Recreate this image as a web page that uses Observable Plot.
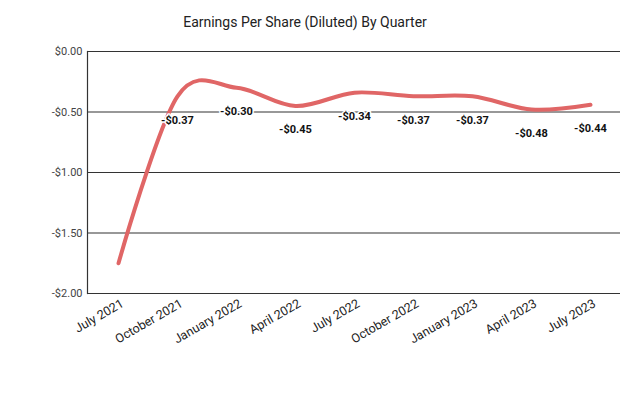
<!DOCTYPE html>
<html><head><meta charset="utf-8">
<script src="https://cdn.jsdelivr.net/npm/d3@7"></script>
<script src="https://cdn.jsdelivr.net/npm/@observablehq/plot@0.6"></script>
<style>
body{margin:0;background:#fff;font-family:Roboto,sans-serif;}
#title{height:40px;width:610px;text-align:center;font-size:14px;line-height:44px;color:#222;}
</style></head>
<body>
<div id="title">Earnings Per Share (Diluted) By Quarter</div>
<div id="chart"></div>
<script>
const quarters = ["July 2021","October 2021","January 2022","April 2022","July 2022","October 2022","January 2023","April 2023","July 2023"];
const eps = [-1.75,-0.37,-0.30,-0.45,-0.34,-0.37,-0.37,-0.48,-0.44];
const showLabel = [false,true,true,true,true,true,true,true,true];
const yTicks = [0,-0.5,-1,-1.5,-2];

const data = quarters.map((q,i)=>({q, v: eps[i], show: showLabel[i]}));
const fmt = d => (d < 0 ? "-$" : "$") + Math.abs(d).toFixed(2);

const chart = Plot.plot({
  width: 640, height: 355,
  marginTop: 11, marginBottom: 102, marginLeft: 87, marginRight: 20,
  style: {fontFamily: "Roboto, sans-serif", fontSize: "11px", color: "#444"},
  x: {type: "point", domain: quarters, padding: 0.5, label: null},
  y: {domain: [-2, 0], label: null},
  marks: [
    Plot.ruleY(yTicks, {stroke: "#333", strokeWidth: 1.2}),
    Plot.frame({anchor: "left", stroke: "#333", strokeWidth: 1.2}),
    Plot.axisY({ticks: yTicks, tickFormat: fmt, tickSize: 0, tickPadding: 5, fontSize: 11}),
    Plot.axisX({tickSize: 0, tickRotate: -30, tickPadding: 9, dx: 4, fontSize: 12.5, fill: "#222"}),
    Plot.line(data, {x: "q", y: "v", stroke: "#e06666", strokeWidth: 4, curve: "cardinal"}),
    Plot.text(data.filter(d=>d.show), {x: "q", y: "v", text: d => fmt(d.v), dy: 24, fontWeight: "bold", fontSize: 11, fill: "#111", stroke: "white", strokeWidth: 3})
  ]
});
document.getElementById("chart").append(chart);
</script>
</body></html>
